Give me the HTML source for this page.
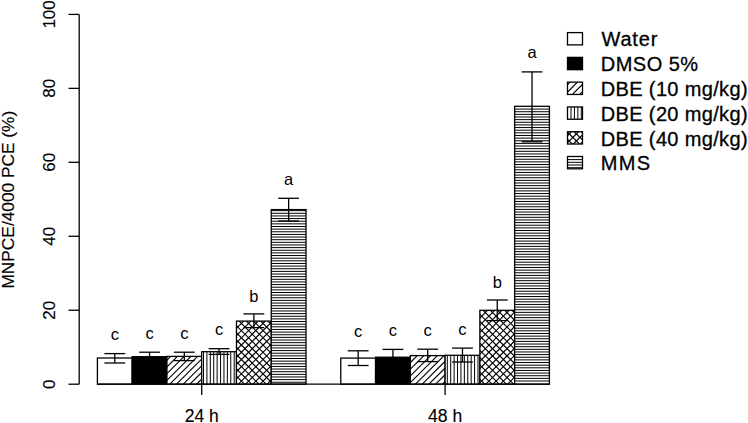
<!DOCTYPE html>
<html><head><meta charset="utf-8"><title>MNPCE chart</title>
<style>
html,body{margin:0;padding:0;background:#fff;}
body{width:748px;height:423px;overflow:hidden;font-family:"Liberation Sans",sans-serif;}
svg{display:block;}
text{font-family:"Liberation Sans",sans-serif;}
text.l{stroke:#000;stroke-width:0.3px;}
text.t{stroke:#000;stroke-width:0.15px;}
</style></head>
<body>
<svg width="748" height="423" viewBox="0 0 748 423" font-family="Liberation Sans, sans-serif" fill="#000"><defs><clipPath id="c0"><rect x="97.40" y="358.00" width="34.77" height="26.20"/></clipPath><clipPath id="c1"><rect x="132.17" y="356.70" width="34.77" height="27.50"/></clipPath><clipPath id="c2"><rect x="166.94" y="356.40" width="34.77" height="27.80"/></clipPath><clipPath id="c3"><rect x="201.71" y="351.70" width="34.77" height="32.50"/></clipPath><clipPath id="c4"><rect x="236.48" y="321.10" width="34.77" height="63.10"/></clipPath><clipPath id="c5"><rect x="271.25" y="209.60" width="34.77" height="174.60"/></clipPath><clipPath id="c6"><rect x="340.79" y="358.10" width="34.77" height="26.10"/></clipPath><clipPath id="c7"><rect x="375.56" y="357.20" width="34.77" height="27.00"/></clipPath><clipPath id="c8"><rect x="410.33" y="355.60" width="34.77" height="28.60"/></clipPath><clipPath id="c9"><rect x="445.10" y="355.30" width="34.77" height="28.90"/></clipPath><clipPath id="c10"><rect x="479.87" y="310.30" width="34.77" height="73.90"/></clipPath><clipPath id="c11"><rect x="514.64" y="106.30" width="34.77" height="277.90"/></clipPath><clipPath id="c100"><rect x="567.50" y="32.60" width="15.00" height="12.30"/></clipPath><clipPath id="c101"><rect x="567.50" y="57.38" width="15.00" height="12.30"/></clipPath><clipPath id="c102"><rect x="567.50" y="82.16" width="15.00" height="12.30"/></clipPath><clipPath id="c103"><rect x="567.50" y="106.94" width="15.00" height="12.30"/></clipPath><clipPath id="c104"><rect x="567.50" y="131.72" width="15.00" height="12.30"/></clipPath><clipPath id="c105"><rect x="567.50" y="156.50" width="15.00" height="12.30"/></clipPath></defs><rect width="748" height="423" fill="#fff"/><rect x="97.40" y="358.00" width="34.77" height="26.20" fill="#fff"/><rect x="97.40" y="358.00" width="34.77" height="26.20" fill="none" stroke="#000" stroke-width="1.3"/><rect x="132.17" y="356.70" width="34.77" height="27.50" fill="#000"/><rect x="132.17" y="356.70" width="34.77" height="27.50" fill="none" stroke="#000" stroke-width="1.3"/><rect x="166.94" y="356.40" width="34.77" height="27.80" fill="#fff"/><g clip-path="url(#c2)" stroke="#000" stroke-width="1.15"><line x1="136.20" y1="384.20" x2="164.00" y2="356.40"/><line x1="142.92" y1="384.20" x2="170.72" y2="356.40"/><line x1="149.64" y1="384.20" x2="177.44" y2="356.40"/><line x1="156.36" y1="384.20" x2="184.16" y2="356.40"/><line x1="163.08" y1="384.20" x2="190.88" y2="356.40"/><line x1="169.80" y1="384.20" x2="197.60" y2="356.40"/><line x1="176.52" y1="384.20" x2="204.32" y2="356.40"/><line x1="183.24" y1="384.20" x2="211.04" y2="356.40"/><line x1="189.96" y1="384.20" x2="217.76" y2="356.40"/><line x1="196.68" y1="384.20" x2="224.48" y2="356.40"/><line x1="203.40" y1="384.20" x2="231.20" y2="356.40"/></g><rect x="166.94" y="356.40" width="34.77" height="27.80" fill="none" stroke="#000" stroke-width="1.3"/><rect x="201.71" y="351.70" width="34.77" height="32.50" fill="#fff"/><g clip-path="url(#c3)" stroke="#000" stroke-width="1.0"><line x1="203.50" y1="351.70" x2="203.50" y2="384.20"/><line x1="206.91" y1="351.70" x2="206.91" y2="384.20"/><line x1="210.32" y1="351.70" x2="210.32" y2="384.20"/><line x1="213.73" y1="351.70" x2="213.73" y2="384.20"/><line x1="217.14" y1="351.70" x2="217.14" y2="384.20"/><line x1="220.55" y1="351.70" x2="220.55" y2="384.20"/><line x1="223.96" y1="351.70" x2="223.96" y2="384.20"/><line x1="227.37" y1="351.70" x2="227.37" y2="384.20"/><line x1="230.78" y1="351.70" x2="230.78" y2="384.20"/><line x1="234.19" y1="351.70" x2="234.19" y2="384.20"/></g><rect x="201.71" y="351.70" width="34.77" height="32.50" fill="none" stroke="#000" stroke-width="1.3"/><rect x="236.48" y="321.10" width="34.77" height="63.10" fill="#fff"/><g clip-path="url(#c4)" stroke="#000" stroke-width="1.15"><line x1="173.34" y1="384.20" x2="236.44" y2="321.10"/><line x1="180.56" y1="384.20" x2="243.66" y2="321.10"/><line x1="187.78" y1="384.20" x2="250.88" y2="321.10"/><line x1="195.00" y1="384.20" x2="258.10" y2="321.10"/><line x1="202.22" y1="384.20" x2="265.32" y2="321.10"/><line x1="209.44" y1="384.20" x2="272.54" y2="321.10"/><line x1="216.66" y1="384.20" x2="279.76" y2="321.10"/><line x1="223.88" y1="384.20" x2="286.98" y2="321.10"/><line x1="231.10" y1="384.20" x2="294.20" y2="321.10"/><line x1="238.32" y1="384.20" x2="301.42" y2="321.10"/><line x1="245.54" y1="384.20" x2="308.64" y2="321.10"/><line x1="252.76" y1="384.20" x2="315.86" y2="321.10"/><line x1="259.98" y1="384.20" x2="323.08" y2="321.10"/><line x1="267.20" y1="384.20" x2="330.30" y2="321.10"/><line x1="274.42" y1="384.20" x2="337.52" y2="321.10"/><line x1="230.02" y1="384.20" x2="166.92" y2="321.10"/><line x1="237.24" y1="384.20" x2="174.14" y2="321.10"/><line x1="244.46" y1="384.20" x2="181.36" y2="321.10"/><line x1="251.68" y1="384.20" x2="188.58" y2="321.10"/><line x1="258.90" y1="384.20" x2="195.80" y2="321.10"/><line x1="266.12" y1="384.20" x2="203.02" y2="321.10"/><line x1="273.34" y1="384.20" x2="210.24" y2="321.10"/><line x1="280.56" y1="384.20" x2="217.46" y2="321.10"/><line x1="287.78" y1="384.20" x2="224.68" y2="321.10"/><line x1="295.00" y1="384.20" x2="231.90" y2="321.10"/><line x1="302.22" y1="384.20" x2="239.12" y2="321.10"/><line x1="309.44" y1="384.20" x2="246.34" y2="321.10"/><line x1="316.66" y1="384.20" x2="253.56" y2="321.10"/><line x1="323.88" y1="384.20" x2="260.78" y2="321.10"/><line x1="331.10" y1="384.20" x2="268.00" y2="321.10"/><line x1="338.32" y1="384.20" x2="275.22" y2="321.10"/></g><rect x="236.48" y="321.10" width="34.77" height="63.10" fill="none" stroke="#000" stroke-width="1.3"/><rect x="271.25" y="209.60" width="34.77" height="174.60" fill="#fff"/><g clip-path="url(#c5)" stroke="#000" stroke-width="1.0"><line x1="271.25" y1="210.66" x2="306.02" y2="210.66"/><line x1="271.25" y1="213.30" x2="306.02" y2="213.30"/><line x1="271.25" y1="215.94" x2="306.02" y2="215.94"/><line x1="271.25" y1="218.58" x2="306.02" y2="218.58"/><line x1="271.25" y1="221.22" x2="306.02" y2="221.22"/><line x1="271.25" y1="223.86" x2="306.02" y2="223.86"/><line x1="271.25" y1="226.50" x2="306.02" y2="226.50"/><line x1="271.25" y1="229.14" x2="306.02" y2="229.14"/><line x1="271.25" y1="231.78" x2="306.02" y2="231.78"/><line x1="271.25" y1="234.42" x2="306.02" y2="234.42"/><line x1="271.25" y1="237.06" x2="306.02" y2="237.06"/><line x1="271.25" y1="239.70" x2="306.02" y2="239.70"/><line x1="271.25" y1="242.34" x2="306.02" y2="242.34"/><line x1="271.25" y1="244.98" x2="306.02" y2="244.98"/><line x1="271.25" y1="247.62" x2="306.02" y2="247.62"/><line x1="271.25" y1="250.26" x2="306.02" y2="250.26"/><line x1="271.25" y1="252.90" x2="306.02" y2="252.90"/><line x1="271.25" y1="255.54" x2="306.02" y2="255.54"/><line x1="271.25" y1="258.18" x2="306.02" y2="258.18"/><line x1="271.25" y1="260.82" x2="306.02" y2="260.82"/><line x1="271.25" y1="263.46" x2="306.02" y2="263.46"/><line x1="271.25" y1="266.10" x2="306.02" y2="266.10"/><line x1="271.25" y1="268.74" x2="306.02" y2="268.74"/><line x1="271.25" y1="271.38" x2="306.02" y2="271.38"/><line x1="271.25" y1="274.02" x2="306.02" y2="274.02"/><line x1="271.25" y1="276.66" x2="306.02" y2="276.66"/><line x1="271.25" y1="279.30" x2="306.02" y2="279.30"/><line x1="271.25" y1="281.94" x2="306.02" y2="281.94"/><line x1="271.25" y1="284.58" x2="306.02" y2="284.58"/><line x1="271.25" y1="287.22" x2="306.02" y2="287.22"/><line x1="271.25" y1="289.86" x2="306.02" y2="289.86"/><line x1="271.25" y1="292.50" x2="306.02" y2="292.50"/><line x1="271.25" y1="295.14" x2="306.02" y2="295.14"/><line x1="271.25" y1="297.78" x2="306.02" y2="297.78"/><line x1="271.25" y1="300.42" x2="306.02" y2="300.42"/><line x1="271.25" y1="303.06" x2="306.02" y2="303.06"/><line x1="271.25" y1="305.70" x2="306.02" y2="305.70"/><line x1="271.25" y1="308.34" x2="306.02" y2="308.34"/><line x1="271.25" y1="310.98" x2="306.02" y2="310.98"/><line x1="271.25" y1="313.62" x2="306.02" y2="313.62"/><line x1="271.25" y1="316.26" x2="306.02" y2="316.26"/><line x1="271.25" y1="318.90" x2="306.02" y2="318.90"/><line x1="271.25" y1="321.54" x2="306.02" y2="321.54"/><line x1="271.25" y1="324.18" x2="306.02" y2="324.18"/><line x1="271.25" y1="326.82" x2="306.02" y2="326.82"/><line x1="271.25" y1="329.46" x2="306.02" y2="329.46"/><line x1="271.25" y1="332.10" x2="306.02" y2="332.10"/><line x1="271.25" y1="334.74" x2="306.02" y2="334.74"/><line x1="271.25" y1="337.38" x2="306.02" y2="337.38"/><line x1="271.25" y1="340.02" x2="306.02" y2="340.02"/><line x1="271.25" y1="342.66" x2="306.02" y2="342.66"/><line x1="271.25" y1="345.30" x2="306.02" y2="345.30"/><line x1="271.25" y1="347.94" x2="306.02" y2="347.94"/><line x1="271.25" y1="350.58" x2="306.02" y2="350.58"/><line x1="271.25" y1="353.22" x2="306.02" y2="353.22"/><line x1="271.25" y1="355.86" x2="306.02" y2="355.86"/><line x1="271.25" y1="358.50" x2="306.02" y2="358.50"/><line x1="271.25" y1="361.14" x2="306.02" y2="361.14"/><line x1="271.25" y1="363.78" x2="306.02" y2="363.78"/><line x1="271.25" y1="366.42" x2="306.02" y2="366.42"/><line x1="271.25" y1="369.06" x2="306.02" y2="369.06"/><line x1="271.25" y1="371.70" x2="306.02" y2="371.70"/><line x1="271.25" y1="374.34" x2="306.02" y2="374.34"/><line x1="271.25" y1="376.98" x2="306.02" y2="376.98"/><line x1="271.25" y1="379.62" x2="306.02" y2="379.62"/><line x1="271.25" y1="382.26" x2="306.02" y2="382.26"/></g><rect x="271.25" y="209.60" width="34.77" height="174.60" fill="none" stroke="#000" stroke-width="1.3"/><g stroke="#000" stroke-width="1.3"><line x1="114.79" y1="353.60" x2="114.79" y2="363.00"/><line x1="104.39" y1="353.60" x2="125.19" y2="353.60"/><line x1="104.39" y1="363.00" x2="125.19" y2="363.00"/></g><text x="114.79" y="340.09" font-size="16.5" text-anchor="middle">c</text><g stroke="#000" stroke-width="1.3"><line x1="149.56" y1="352.20" x2="149.56" y2="361.20"/><line x1="139.16" y1="352.20" x2="159.96" y2="352.20"/><line x1="139.16" y1="361.20" x2="159.96" y2="361.20"/></g><text x="149.56" y="338.69" font-size="16.5" text-anchor="middle">c</text><g stroke="#000" stroke-width="1.3"><line x1="184.32" y1="352.20" x2="184.32" y2="360.60"/><line x1="173.92" y1="352.20" x2="194.72" y2="352.20"/><line x1="173.92" y1="360.60" x2="194.72" y2="360.60"/></g><text x="184.32" y="338.69" font-size="16.5" text-anchor="middle">c</text><g stroke="#000" stroke-width="1.3"><line x1="219.09" y1="348.70" x2="219.09" y2="354.40"/><line x1="208.69" y1="348.70" x2="229.50" y2="348.70"/><line x1="208.69" y1="354.40" x2="229.50" y2="354.40"/></g><text x="219.09" y="335.19" font-size="16.5" text-anchor="middle">c</text><g stroke="#000" stroke-width="1.3"><line x1="253.87" y1="313.90" x2="253.87" y2="327.60"/><line x1="243.47" y1="313.90" x2="264.26" y2="313.90"/><line x1="243.47" y1="327.60" x2="264.26" y2="327.60"/></g><text x="253.87" y="301.84" font-size="16.5" text-anchor="middle">b</text><g stroke="#000" stroke-width="1.3"><line x1="288.63" y1="198.30" x2="288.63" y2="221.00"/><line x1="278.24" y1="198.30" x2="299.03" y2="198.30"/><line x1="278.24" y1="221.00" x2="299.03" y2="221.00"/></g><text x="288.63" y="184.79" font-size="16.5" text-anchor="middle">a</text><rect x="340.79" y="358.10" width="34.77" height="26.10" fill="#fff"/><rect x="340.79" y="358.10" width="34.77" height="26.10" fill="none" stroke="#000" stroke-width="1.3"/><rect x="375.56" y="357.20" width="34.77" height="27.00" fill="#000"/><rect x="375.56" y="357.20" width="34.77" height="27.00" fill="none" stroke="#000" stroke-width="1.3"/><rect x="410.33" y="355.60" width="34.77" height="28.60" fill="#fff"/><g clip-path="url(#c8)" stroke="#000" stroke-width="1.15"><line x1="375.18" y1="384.20" x2="403.78" y2="355.60"/><line x1="381.90" y1="384.20" x2="410.50" y2="355.60"/><line x1="388.62" y1="384.20" x2="417.22" y2="355.60"/><line x1="395.34" y1="384.20" x2="423.94" y2="355.60"/><line x1="402.06" y1="384.20" x2="430.66" y2="355.60"/><line x1="408.78" y1="384.20" x2="437.38" y2="355.60"/><line x1="415.50" y1="384.20" x2="444.10" y2="355.60"/><line x1="422.22" y1="384.20" x2="450.82" y2="355.60"/><line x1="428.94" y1="384.20" x2="457.54" y2="355.60"/><line x1="435.66" y1="384.20" x2="464.26" y2="355.60"/><line x1="442.38" y1="384.20" x2="470.98" y2="355.60"/><line x1="449.10" y1="384.20" x2="477.70" y2="355.60"/></g><rect x="410.33" y="355.60" width="34.77" height="28.60" fill="none" stroke="#000" stroke-width="1.3"/><rect x="445.10" y="355.30" width="34.77" height="28.90" fill="#fff"/><g clip-path="url(#c9)" stroke="#000" stroke-width="1.0"><line x1="447.30" y1="355.30" x2="447.30" y2="384.20"/><line x1="450.71" y1="355.30" x2="450.71" y2="384.20"/><line x1="454.12" y1="355.30" x2="454.12" y2="384.20"/><line x1="457.53" y1="355.30" x2="457.53" y2="384.20"/><line x1="460.94" y1="355.30" x2="460.94" y2="384.20"/><line x1="464.35" y1="355.30" x2="464.35" y2="384.20"/><line x1="467.76" y1="355.30" x2="467.76" y2="384.20"/><line x1="471.17" y1="355.30" x2="471.17" y2="384.20"/><line x1="474.58" y1="355.30" x2="474.58" y2="384.20"/><line x1="477.99" y1="355.30" x2="477.99" y2="384.20"/></g><rect x="445.10" y="355.30" width="34.77" height="28.90" fill="none" stroke="#000" stroke-width="1.3"/><rect x="479.87" y="310.30" width="34.77" height="73.90" fill="#fff"/><g clip-path="url(#c10)" stroke="#000" stroke-width="1.15"><line x1="399.20" y1="384.20" x2="473.10" y2="310.30"/><line x1="406.42" y1="384.20" x2="480.32" y2="310.30"/><line x1="413.64" y1="384.20" x2="487.54" y2="310.30"/><line x1="420.86" y1="384.20" x2="494.76" y2="310.30"/><line x1="428.08" y1="384.20" x2="501.98" y2="310.30"/><line x1="435.30" y1="384.20" x2="509.20" y2="310.30"/><line x1="442.52" y1="384.20" x2="516.42" y2="310.30"/><line x1="449.74" y1="384.20" x2="523.64" y2="310.30"/><line x1="456.96" y1="384.20" x2="530.86" y2="310.30"/><line x1="464.18" y1="384.20" x2="538.08" y2="310.30"/><line x1="471.40" y1="384.20" x2="545.30" y2="310.30"/><line x1="478.62" y1="384.20" x2="552.52" y2="310.30"/><line x1="485.84" y1="384.20" x2="559.74" y2="310.30"/><line x1="493.06" y1="384.20" x2="566.96" y2="310.30"/><line x1="500.28" y1="384.20" x2="574.18" y2="310.30"/><line x1="507.50" y1="384.20" x2="581.40" y2="310.30"/><line x1="514.72" y1="384.20" x2="588.62" y2="310.30"/><line x1="477.54" y1="384.20" x2="403.64" y2="310.30"/><line x1="484.76" y1="384.20" x2="410.86" y2="310.30"/><line x1="491.98" y1="384.20" x2="418.08" y2="310.30"/><line x1="499.20" y1="384.20" x2="425.30" y2="310.30"/><line x1="506.42" y1="384.20" x2="432.52" y2="310.30"/><line x1="513.64" y1="384.20" x2="439.74" y2="310.30"/><line x1="520.86" y1="384.20" x2="446.96" y2="310.30"/><line x1="528.08" y1="384.20" x2="454.18" y2="310.30"/><line x1="535.30" y1="384.20" x2="461.40" y2="310.30"/><line x1="542.52" y1="384.20" x2="468.62" y2="310.30"/><line x1="549.74" y1="384.20" x2="475.84" y2="310.30"/><line x1="556.96" y1="384.20" x2="483.06" y2="310.30"/><line x1="564.18" y1="384.20" x2="490.28" y2="310.30"/><line x1="571.40" y1="384.20" x2="497.50" y2="310.30"/><line x1="578.62" y1="384.20" x2="504.72" y2="310.30"/><line x1="585.84" y1="384.20" x2="511.94" y2="310.30"/><line x1="593.06" y1="384.20" x2="519.16" y2="310.30"/></g><rect x="479.87" y="310.30" width="34.77" height="73.90" fill="none" stroke="#000" stroke-width="1.3"/><rect x="514.64" y="106.30" width="34.77" height="277.90" fill="#fff"/><g clip-path="url(#c11)" stroke="#000" stroke-width="1.0"><line x1="514.64" y1="109.08" x2="549.41" y2="109.08"/><line x1="514.64" y1="111.72" x2="549.41" y2="111.72"/><line x1="514.64" y1="114.36" x2="549.41" y2="114.36"/><line x1="514.64" y1="117.00" x2="549.41" y2="117.00"/><line x1="514.64" y1="119.64" x2="549.41" y2="119.64"/><line x1="514.64" y1="122.28" x2="549.41" y2="122.28"/><line x1="514.64" y1="124.92" x2="549.41" y2="124.92"/><line x1="514.64" y1="127.56" x2="549.41" y2="127.56"/><line x1="514.64" y1="130.20" x2="549.41" y2="130.20"/><line x1="514.64" y1="132.84" x2="549.41" y2="132.84"/><line x1="514.64" y1="135.48" x2="549.41" y2="135.48"/><line x1="514.64" y1="138.12" x2="549.41" y2="138.12"/><line x1="514.64" y1="140.76" x2="549.41" y2="140.76"/><line x1="514.64" y1="143.40" x2="549.41" y2="143.40"/><line x1="514.64" y1="146.04" x2="549.41" y2="146.04"/><line x1="514.64" y1="148.68" x2="549.41" y2="148.68"/><line x1="514.64" y1="151.32" x2="549.41" y2="151.32"/><line x1="514.64" y1="153.96" x2="549.41" y2="153.96"/><line x1="514.64" y1="156.60" x2="549.41" y2="156.60"/><line x1="514.64" y1="159.24" x2="549.41" y2="159.24"/><line x1="514.64" y1="161.88" x2="549.41" y2="161.88"/><line x1="514.64" y1="164.52" x2="549.41" y2="164.52"/><line x1="514.64" y1="167.16" x2="549.41" y2="167.16"/><line x1="514.64" y1="169.80" x2="549.41" y2="169.80"/><line x1="514.64" y1="172.44" x2="549.41" y2="172.44"/><line x1="514.64" y1="175.08" x2="549.41" y2="175.08"/><line x1="514.64" y1="177.72" x2="549.41" y2="177.72"/><line x1="514.64" y1="180.36" x2="549.41" y2="180.36"/><line x1="514.64" y1="183.00" x2="549.41" y2="183.00"/><line x1="514.64" y1="185.64" x2="549.41" y2="185.64"/><line x1="514.64" y1="188.28" x2="549.41" y2="188.28"/><line x1="514.64" y1="190.92" x2="549.41" y2="190.92"/><line x1="514.64" y1="193.56" x2="549.41" y2="193.56"/><line x1="514.64" y1="196.20" x2="549.41" y2="196.20"/><line x1="514.64" y1="198.84" x2="549.41" y2="198.84"/><line x1="514.64" y1="201.48" x2="549.41" y2="201.48"/><line x1="514.64" y1="204.12" x2="549.41" y2="204.12"/><line x1="514.64" y1="206.76" x2="549.41" y2="206.76"/><line x1="514.64" y1="209.40" x2="549.41" y2="209.40"/><line x1="514.64" y1="212.04" x2="549.41" y2="212.04"/><line x1="514.64" y1="214.68" x2="549.41" y2="214.68"/><line x1="514.64" y1="217.32" x2="549.41" y2="217.32"/><line x1="514.64" y1="219.96" x2="549.41" y2="219.96"/><line x1="514.64" y1="222.60" x2="549.41" y2="222.60"/><line x1="514.64" y1="225.24" x2="549.41" y2="225.24"/><line x1="514.64" y1="227.88" x2="549.41" y2="227.88"/><line x1="514.64" y1="230.52" x2="549.41" y2="230.52"/><line x1="514.64" y1="233.16" x2="549.41" y2="233.16"/><line x1="514.64" y1="235.80" x2="549.41" y2="235.80"/><line x1="514.64" y1="238.44" x2="549.41" y2="238.44"/><line x1="514.64" y1="241.08" x2="549.41" y2="241.08"/><line x1="514.64" y1="243.72" x2="549.41" y2="243.72"/><line x1="514.64" y1="246.36" x2="549.41" y2="246.36"/><line x1="514.64" y1="249.00" x2="549.41" y2="249.00"/><line x1="514.64" y1="251.64" x2="549.41" y2="251.64"/><line x1="514.64" y1="254.28" x2="549.41" y2="254.28"/><line x1="514.64" y1="256.92" x2="549.41" y2="256.92"/><line x1="514.64" y1="259.56" x2="549.41" y2="259.56"/><line x1="514.64" y1="262.20" x2="549.41" y2="262.20"/><line x1="514.64" y1="264.84" x2="549.41" y2="264.84"/><line x1="514.64" y1="267.48" x2="549.41" y2="267.48"/><line x1="514.64" y1="270.12" x2="549.41" y2="270.12"/><line x1="514.64" y1="272.76" x2="549.41" y2="272.76"/><line x1="514.64" y1="275.40" x2="549.41" y2="275.40"/><line x1="514.64" y1="278.04" x2="549.41" y2="278.04"/><line x1="514.64" y1="280.68" x2="549.41" y2="280.68"/><line x1="514.64" y1="283.32" x2="549.41" y2="283.32"/><line x1="514.64" y1="285.96" x2="549.41" y2="285.96"/><line x1="514.64" y1="288.60" x2="549.41" y2="288.60"/><line x1="514.64" y1="291.24" x2="549.41" y2="291.24"/><line x1="514.64" y1="293.88" x2="549.41" y2="293.88"/><line x1="514.64" y1="296.52" x2="549.41" y2="296.52"/><line x1="514.64" y1="299.16" x2="549.41" y2="299.16"/><line x1="514.64" y1="301.80" x2="549.41" y2="301.80"/><line x1="514.64" y1="304.44" x2="549.41" y2="304.44"/><line x1="514.64" y1="307.08" x2="549.41" y2="307.08"/><line x1="514.64" y1="309.72" x2="549.41" y2="309.72"/><line x1="514.64" y1="312.36" x2="549.41" y2="312.36"/><line x1="514.64" y1="315.00" x2="549.41" y2="315.00"/><line x1="514.64" y1="317.64" x2="549.41" y2="317.64"/><line x1="514.64" y1="320.28" x2="549.41" y2="320.28"/><line x1="514.64" y1="322.92" x2="549.41" y2="322.92"/><line x1="514.64" y1="325.56" x2="549.41" y2="325.56"/><line x1="514.64" y1="328.20" x2="549.41" y2="328.20"/><line x1="514.64" y1="330.84" x2="549.41" y2="330.84"/><line x1="514.64" y1="333.48" x2="549.41" y2="333.48"/><line x1="514.64" y1="336.12" x2="549.41" y2="336.12"/><line x1="514.64" y1="338.76" x2="549.41" y2="338.76"/><line x1="514.64" y1="341.40" x2="549.41" y2="341.40"/><line x1="514.64" y1="344.04" x2="549.41" y2="344.04"/><line x1="514.64" y1="346.68" x2="549.41" y2="346.68"/><line x1="514.64" y1="349.32" x2="549.41" y2="349.32"/><line x1="514.64" y1="351.96" x2="549.41" y2="351.96"/><line x1="514.64" y1="354.60" x2="549.41" y2="354.60"/><line x1="514.64" y1="357.24" x2="549.41" y2="357.24"/><line x1="514.64" y1="359.88" x2="549.41" y2="359.88"/><line x1="514.64" y1="362.52" x2="549.41" y2="362.52"/><line x1="514.64" y1="365.16" x2="549.41" y2="365.16"/><line x1="514.64" y1="367.80" x2="549.41" y2="367.80"/><line x1="514.64" y1="370.44" x2="549.41" y2="370.44"/><line x1="514.64" y1="373.08" x2="549.41" y2="373.08"/><line x1="514.64" y1="375.72" x2="549.41" y2="375.72"/><line x1="514.64" y1="378.36" x2="549.41" y2="378.36"/><line x1="514.64" y1="381.00" x2="549.41" y2="381.00"/></g><rect x="514.64" y="106.30" width="34.77" height="277.90" fill="none" stroke="#000" stroke-width="1.3"/><g stroke="#000" stroke-width="1.3"><line x1="358.18" y1="350.80" x2="358.18" y2="365.50"/><line x1="347.78" y1="350.80" x2="368.57" y2="350.80"/><line x1="347.78" y1="365.50" x2="368.57" y2="365.50"/></g><text x="358.18" y="337.29" font-size="16.5" text-anchor="middle">c</text><g stroke="#000" stroke-width="1.3"><line x1="392.94" y1="349.40" x2="392.94" y2="365.00"/><line x1="382.55" y1="349.40" x2="403.34" y2="349.40"/><line x1="382.55" y1="365.00" x2="403.34" y2="365.00"/></g><text x="392.94" y="335.89" font-size="16.5" text-anchor="middle">c</text><g stroke="#000" stroke-width="1.3"><line x1="427.72" y1="349.20" x2="427.72" y2="361.60"/><line x1="417.32" y1="349.20" x2="438.12" y2="349.20"/><line x1="417.32" y1="361.60" x2="438.12" y2="361.60"/></g><text x="427.72" y="335.69" font-size="16.5" text-anchor="middle">c</text><g stroke="#000" stroke-width="1.3"><line x1="462.49" y1="348.10" x2="462.49" y2="362.00"/><line x1="452.09" y1="348.10" x2="472.88" y2="348.10"/><line x1="452.09" y1="362.00" x2="472.88" y2="362.00"/></g><text x="462.49" y="334.59" font-size="16.5" text-anchor="middle">c</text><g stroke="#000" stroke-width="1.3"><line x1="497.25" y1="300.00" x2="497.25" y2="320.60"/><line x1="486.86" y1="300.00" x2="507.65" y2="300.00"/><line x1="486.86" y1="320.60" x2="507.65" y2="320.60"/></g><text x="497.25" y="287.94" font-size="16.5" text-anchor="middle">b</text><g stroke="#000" stroke-width="1.3"><line x1="532.03" y1="71.90" x2="532.03" y2="141.80"/><line x1="521.63" y1="71.90" x2="542.43" y2="71.90"/><line x1="521.63" y1="141.80" x2="542.43" y2="141.80"/></g><text x="532.03" y="58.39" font-size="16.5" text-anchor="middle">a</text><line x1="97.40" y1="384.20" x2="549.41" y2="384.20" stroke="#000" stroke-width="1.3"/><line x1="201.71" y1="384.20" x2="201.71" y2="395" stroke="#000" stroke-width="1.3"/><text class="t" x="201.71" y="421.6" font-size="17.5" text-anchor="middle">24 h</text><line x1="445.10" y1="384.20" x2="445.10" y2="395" stroke="#000" stroke-width="1.3"/><text class="t" x="445.10" y="421.6" font-size="17.5" text-anchor="middle">48 h</text><line x1="79.2" y1="14.40" x2="79.2" y2="384.20" stroke="#000" stroke-width="1.3"/><line x1="68.5" y1="384.20" x2="79.2" y2="384.20" stroke="#000" stroke-width="1.3"/><text class="t" transform="translate(55,384.20) rotate(-90)" font-size="17" text-anchor="middle">0</text><line x1="68.5" y1="310.24" x2="79.2" y2="310.24" stroke="#000" stroke-width="1.3"/><text class="t" transform="translate(55,310.24) rotate(-90)" font-size="17" text-anchor="middle">20</text><line x1="68.5" y1="236.28" x2="79.2" y2="236.28" stroke="#000" stroke-width="1.3"/><text class="t" transform="translate(55,236.28) rotate(-90)" font-size="17" text-anchor="middle">40</text><line x1="68.5" y1="162.32" x2="79.2" y2="162.32" stroke="#000" stroke-width="1.3"/><text class="t" transform="translate(55,162.32) rotate(-90)" font-size="17" text-anchor="middle">60</text><line x1="68.5" y1="88.36" x2="79.2" y2="88.36" stroke="#000" stroke-width="1.3"/><text class="t" transform="translate(55,88.36) rotate(-90)" font-size="17" text-anchor="middle">80</text><line x1="68.5" y1="14.40" x2="79.2" y2="14.40" stroke="#000" stroke-width="1.3"/><text class="t" transform="translate(55,14.40) rotate(-90)" font-size="17" text-anchor="middle">100</text><text class="t" transform="translate(14.2,199.7) rotate(-90)" font-size="17.3" text-anchor="middle">MNPCE/4000 PCE (%)</text><rect x="567.50" y="32.60" width="15.00" height="12.30" fill="#fff"/><rect x="567.50" y="32.60" width="15.00" height="12.30" fill="none" stroke="#000" stroke-width="1.3"/><text class="l" x="601.4" y="46.40" font-size="20" textLength="56.0" lengthAdjust="spacing">Water</text><rect x="567.50" y="57.38" width="15.00" height="12.30" fill="#000"/><rect x="567.50" y="57.38" width="15.00" height="12.30" fill="none" stroke="#000" stroke-width="1.3"/><text class="l" x="600.8" y="71.18" font-size="20" textLength="97.3" lengthAdjust="spacing">DMSO 5&#37;</text><rect x="567.50" y="82.16" width="15.00" height="12.30" fill="#fff"/><g clip-path="url(#c102)" stroke="#000" stroke-width="1.15"><line x1="550.54" y1="94.46" x2="562.84" y2="82.16"/><line x1="557.84" y1="94.46" x2="570.14" y2="82.16"/><line x1="565.14" y1="94.46" x2="577.44" y2="82.16"/><line x1="572.44" y1="94.46" x2="584.74" y2="82.16"/><line x1="579.74" y1="94.46" x2="592.04" y2="82.16"/><line x1="587.04" y1="94.46" x2="599.34" y2="82.16"/></g><rect x="567.50" y="82.16" width="15.00" height="12.30" fill="none" stroke="#000" stroke-width="1.3"/><text class="l" x="600.8" y="95.96" font-size="20" textLength="146.8" lengthAdjust="spacing">DBE (10 mg/kg)</text><rect x="567.50" y="106.94" width="15.00" height="12.30" fill="#fff"/><g clip-path="url(#c103)" stroke="#000" stroke-width="1.0"><line x1="571.00" y1="106.94" x2="571.00" y2="119.24"/><line x1="574.43" y1="106.94" x2="574.43" y2="119.24"/><line x1="577.86" y1="106.94" x2="577.86" y2="119.24"/><line x1="581.29" y1="106.94" x2="581.29" y2="119.24"/></g><rect x="567.50" y="106.94" width="15.00" height="12.30" fill="none" stroke="#000" stroke-width="1.3"/><text class="l" x="600.8" y="120.74" font-size="20" textLength="146.8" lengthAdjust="spacing">DBE (20 mg/kg)</text><rect x="567.50" y="131.72" width="15.00" height="12.30" fill="#fff"/><g clip-path="url(#c104)" stroke="#000" stroke-width="1.15"><line x1="551.90" y1="144.02" x2="564.20" y2="131.72"/><line x1="559.05" y1="144.02" x2="571.35" y2="131.72"/><line x1="566.20" y1="144.02" x2="578.50" y2="131.72"/><line x1="573.35" y1="144.02" x2="585.65" y2="131.72"/><line x1="580.50" y1="144.02" x2="592.80" y2="131.72"/><line x1="587.65" y1="144.02" x2="599.95" y2="131.72"/><line x1="565.10" y1="144.02" x2="552.80" y2="131.72"/><line x1="572.25" y1="144.02" x2="559.95" y2="131.72"/><line x1="579.40" y1="144.02" x2="567.10" y2="131.72"/><line x1="586.55" y1="144.02" x2="574.25" y2="131.72"/><line x1="593.70" y1="144.02" x2="581.40" y2="131.72"/><line x1="600.85" y1="144.02" x2="588.55" y2="131.72"/></g><rect x="567.50" y="131.72" width="15.00" height="12.30" fill="none" stroke="#000" stroke-width="1.3"/><text class="l" x="600.8" y="145.52" font-size="20" textLength="146.8" lengthAdjust="spacing">DBE (40 mg/kg)</text><rect x="567.50" y="156.50" width="15.00" height="12.30" fill="#fff"/><g clip-path="url(#c105)" stroke="#000" stroke-width="1.0"><line x1="567.50" y1="159.60" x2="582.50" y2="159.60"/><line x1="567.50" y1="162.30" x2="582.50" y2="162.30"/><line x1="567.50" y1="165.00" x2="582.50" y2="165.00"/><line x1="567.50" y1="167.70" x2="582.50" y2="167.70"/></g><rect x="567.50" y="156.50" width="15.00" height="12.30" fill="none" stroke="#000" stroke-width="1.3"/><text class="l" x="600.8" y="170.30" font-size="20" textLength="49.4" lengthAdjust="spacing">MMS</text></svg>
</body></html>
